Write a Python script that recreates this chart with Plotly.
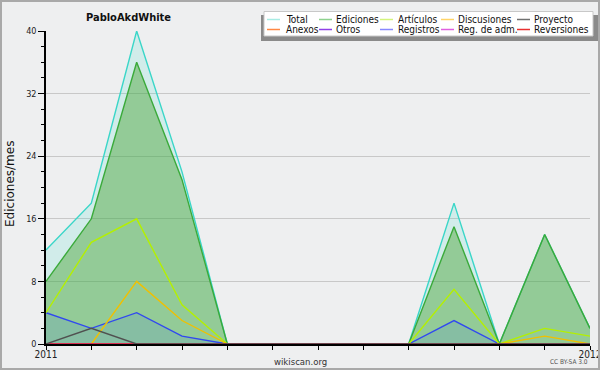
import plotly.graph_objects as go

# ---- data ----
months = ["2011-01", "2011-02", "2011-03", "2011-04", "2011-05", "2011-06", "2011-07",
          "2011-08", "2011-09", "2011-10", "2011-11", "2011-12", "2012-01"]
tick_text = ["2011", "", "", "", "", "", "", "", "", "", "", "", "2012"]
total       = [12, 18, 40, 22, 0, 0, 0, 0, 0, 18, 0, 14, 2]
ediciones   = [8, 16, 36, 21, 0, 0, 0, 0, 0, 15, 0, 14, 2]
articulos   = [4, 13, 16, 5, 0, 0, 0, 0, 0, 7, 0, 2, 1]
discusiones = [0, 0, 8, 3, 0, 0, 0, 0, 0, 0, 0, 1, 0]
proyecto    = [0, 2, 0, 0, 0, 0, 0, 0, 0, 0, 0, 0, 0]
registros   = [4, 2, 4, 1, 0, 0, 0, 0, 0, 3, 0, 0, 0]
anexos      = [0] * 13
otros       = [0] * 13
reg_adm     = [0] * 13
reversiones = [0] * 13

legend_rows = [["Total", "Ediciones", "Artículos", "Discusiones", "Proyecto"],
               ["Anexos", "Otros", "Registros", "Reg. de adm.", "Reversiones"]]

FONT = "DejaVu Sans Condensed, DejaVu Sans, sans-serif"
W, H = 600, 370
L, R, T, B = 46, 10, 31, 26
PW, PH = W - L - R, H - T - B


def px(x):
    return (x - L) / PW


def py(y):
    return (H - B - y) / PH


colors = {
    "Total": "#3ad6c8", "Ediciones": "#3aaa3a", "Artículos": "#b4f000",
    "Discusiones": "#f0c000", "Proyecto": "#505050", "Anexos": "#ff7f40",
    "Otros": "#8a30e0", "Registros": "#3048f0", "Reg. de adm.": "#d040d0",
    "Reversiones": "#e02828",
}
legend_colors = {
    "Total": "#a8ece4", "Ediciones": "#8ed28e", "Artículos": "#d4f47c",
    "Discusiones": "#ffd468", "Proyecto": "#707070", "Anexos": "#ff8844",
    "Otros": "#9040e8", "Registros": "#8888ff", "Reg. de adm.": "#e060e0",
    "Reversiones": "#e83030",
}
fills = {
    "Total": "rgba(64,224,208,0.16)",
    "Ediciones": "rgba(70,165,50,0.45)",
    "Registros": "rgba(40,100,255,0.12)",
}

series = [
    ("Total", total), ("Ediciones", ediciones), ("Registros", registros),
    ("Artículos", articulos), ("Discusiones", discusiones),
    ("Anexos", anexos), ("Otros", otros), ("Reg. de adm.", reg_adm),
    ("Reversiones", reversiones), ("Proyecto", proyecto),
]

fig = go.Figure()
for name, vals in series:
    fig.add_trace(go.Scatter(
        x=months, y=vals, name=name, mode="lines",
        line=dict(color=colors[name], width=1.4),
        fill="tozeroy" if name in fills else None,
        fillcolor=fills.get(name),
        showlegend=False, hoverinfo="x+y+name",
    ))

shapes = []
annotations = []

# outer border
shapes.append(dict(type="rect", xref="paper", yref="paper",
                   x0=px(1), x1=px(599), y0=py(369), y1=py(1),
                   line=dict(color="#a9a9a9", width=2), fillcolor="rgba(0,0,0,0)"))

# legend box with shadow
shapes.append(dict(type="rect", xref="paper", yref="paper", layer="above",
                   x0=px(261), x1=px(598), y0=py(41), y1=py(15),
                   line=dict(width=0), fillcolor="#8a8a8a"))
shapes.append(dict(type="rect", xref="paper", yref="paper", layer="above",
                   x0=px(264), x1=px(593), y0=py(36), y1=py(11.5),
                   line=dict(color="#c8c8c8", width=1), fillcolor="#ffffff"))

sw_x = [267, 319, 380, 441, 517]
tx_x = [285, 335, 397, 457, 533]
row_y = [19.5, 29.5]
for r, row in enumerate(legend_rows):
    for c, name in enumerate(row):
        shapes.append(dict(type="line", xref="paper", yref="paper", layer="above",
                           x0=px(sw_x[c]), x1=px(sw_x[c] + 13),
                           y0=py(row_y[r]), y1=py(row_y[r]),
                           line=dict(color=legend_colors[name], width=1.5)))
        annotations.append(dict(text=name, xref="paper", yref="paper",
                                x=px(tx_x[c] - 1), y=py(row_y[r]),
                                xanchor="left", yanchor="middle", showarrow=False,
                                font=dict(family=FONT, size=10, color="#111111")))

# title
annotations.append(dict(text="<b>PabloAkdWhite</b>", xref="paper", yref="paper",
                        x=px(128), y=py(17), xanchor="center", yanchor="middle",
                        showarrow=False, font=dict(family=FONT, size=11, color="#111111")))
# footer
annotations.append(dict(text="wikiscan.org", xref="paper", yref="paper",
                        x=px(300), y=py(361), xanchor="center", yanchor="middle",
                        showarrow=False, font=dict(family=FONT, size=9.5, color="#333333")))
annotations.append(dict(text="CC BY-SA 3.0", xref="paper", yref="paper",
                        x=px(569), y=py(362), xanchor="center", yanchor="middle",
                        showarrow=False, font=dict(family=FONT, size=6.5, color="#555555")))
# y title
annotations.append(dict(text="Ediciones/mes", xref="paper", yref="paper",
                        x=px(10), y=py(184), xanchor="center", yanchor="middle",
                        textangle=-90, showarrow=False,
                        font=dict(family="DejaVu Sans, sans-serif", size=12, color="#111111")))

fig.update_layout(
    template="none",
    width=W, height=H,
    margin=dict(l=L, r=R, t=T, b=B, pad=0, autoexpand=False),
    paper_bgcolor="#eeeff0", plot_bgcolor="#eeeff0",
    font=dict(family=FONT, size=10, color="#222222"),
    shapes=shapes, annotations=annotations,
    showlegend=False,
)
fig.update_xaxes(
    type="category", range=[0, len(months) - 1], automargin=False,
    tickmode="array", tickvals=months, ticktext=tick_text,
    ticks="outside", ticklen=4, tickcolor="#000000", tickwidth=1,
    showline=True, linecolor="#000000", linewidth=2,
    showgrid=False, zeroline=False,
    ticklabelstandoff=-4,
    tickfont=dict(family=FONT, size=10, color="#222222"),
)
fig.update_yaxes(
    range=[0, 40], tickmode="linear", tick0=0, dtick=8, automargin=False,
    ticks="outside", ticklen=6, tickcolor="#000000", tickwidth=1,
    minor=dict(dtick=2, ticks="outside", ticklen=3, tickcolor="#000000", showgrid=False),
    showline=True, linecolor="#000000", linewidth=1.5,
    showgrid=True, gridcolor="#c8c8c8", gridwidth=1,
    zeroline=False,
    tickfont=dict(family=FONT, size=9, color="#222222"),
)

fig.write_html("out.html", config={"displayModeBar": False},
               post_script="document.body.style.margin='0';document.body.style.overflow='hidden';")
